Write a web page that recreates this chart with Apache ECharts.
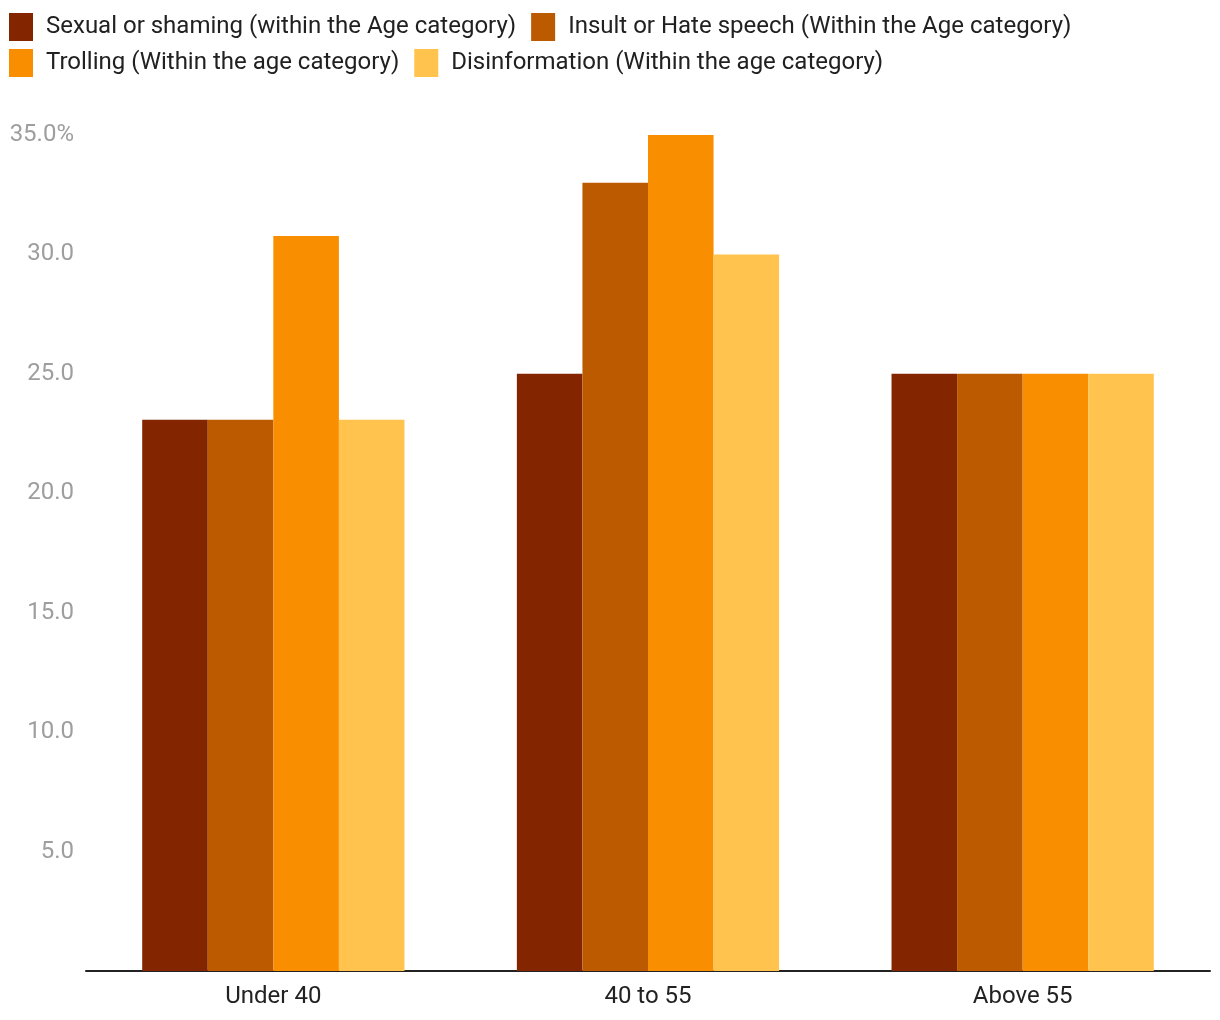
<!DOCTYPE html>
<html><head><meta charset="utf-8">
<script src="https://cdn.jsdelivr.net/npm/echarts@6/dist/echarts.min.js"></script>
<style>html,body{margin:0;padding:0;background:#fff}#c{width:1220px;height:1020px}</style>
</head><body><div id="c"></div>
<script>
const categories = ['Under 40', '40 to 55', 'Above 55'];
const seriesNames = [
  'Sexual or shaming (within the Age category)',
  'Insult or Hate speech (Within the Age category)',
  'Trolling (Within the age category)',
  'Disinformation (Within the age category)'
];
const sexualValues = [23.08, 25, 25];
const insultValues = [23.08, 33, 25];
const trollingValues = [30.77, 35, 25];
const disinfoValues = [23.08, 30, 25];
const colors = ['#832600', '#BC5A00', '#F98E00', '#FFC34E'];

const allValues = [sexualValues, insultValues, trollingValues, disinfoValues];
const legendBase = {
  left: 9, padding: 0,
  itemWidth: 24, itemHeight: 28, itemGap: 15,
  icon: 'rect',
  textStyle: { fontSize: 24, color: '#212121', fontFamily: 'Roboto', padding: [2, 0, 0, 8] }
};
const chart = echarts.init(document.getElementById('c'));
chart.setOption({
  animation: false,
  textStyle: { fontFamily: 'Roboto' },
  legend: [
    Object.assign({}, legendBase, { top: 13, data: seriesNames.slice(0, 2) }),
    Object.assign({}, legendBase, { top: 49, data: seriesNames.slice(2, 4) })
  ],
  grid: { left: 86, right: 10, top: 135, bottom: 49, containLabel: false },
  xAxis: {
    type: 'category', data: categories,
    axisLine: { lineStyle: { color: '#222', width: 2 } },
    axisTick: { show: false },
    axisLabel: { fontSize: 24, color: '#222', margin: 14, fontFamily: 'Roboto' }
  },
  yAxis: {
    type: 'value', min: 0, max: 35, interval: 5,
    splitLine: { show: false },
    axisLine: { show: false }, axisTick: { show: false },
    axisLabel: {
      fontSize: 24, color: '#9e9e9e', margin: 12, fontFamily: 'Roboto',
      formatter: v => v === 0 ? '' : (v === 35 ? v.toFixed(1) + '%' : v.toFixed(1))
    }
  },
  series: seriesNames.map((n, i) => ({
    name: n, type: 'bar', data: allValues[i],
    itemStyle: { color: colors[i] },
    barGap: '0%', barCategoryGap: '30%'
  }))
});
</script></body></html>
